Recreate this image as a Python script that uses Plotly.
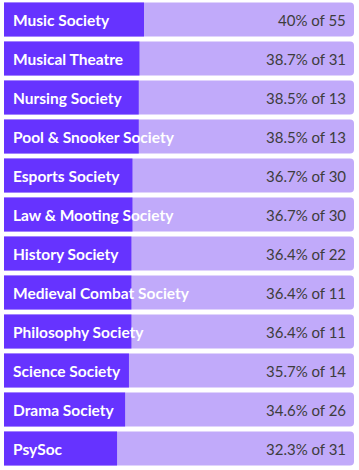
import plotly.graph_objects as go

societies = ["Music Society", "Musical Theatre", "Nursing Society", "Pool & Snooker Society",
             "Esports Society", "Law & Mooting Society", "History Society", "Medieval Combat Society",
             "Philosophy Society", "Science Society", "Drama Society", "PsySoc"]
percents = [40, 38.7, 38.5, 38.5, 36.7, 36.7, 36.4, 36.4, 36.4, 35.7, 34.6, 32.3]
totals = [55, 31, 13, 13, 30, 30, 22, 11, 11, 14, 26, 31]

DARK = "#6633FF"
LIGHT = "#C1AAFA"

right_labels = [f"{p:g}% of {t}" for p, t in zip(percents, totals)]

fig = go.Figure()
fig.add_trace(go.Bar(y=societies, x=[100] * len(societies), orientation="h",
                     marker=dict(color=LIGHT, cornerradius=4, line=dict(width=0)),
                     hoverinfo="skip"))
fig.add_trace(go.Bar(y=societies, x=percents, orientation="h",
                     marker=dict(color=DARK, line=dict(width=0)),
                     hoverinfo="skip"))

annotations = []
for s, r in zip(societies, right_labels):
    annotations.append(dict(x=0, y=s, xref="x", yref="y", text=s, showarrow=False,
                            xanchor="left", xshift=7,
                            font=dict(family="Lato", size=15.5, color="white", weight="bold")))
    annotations.append(dict(x=100, y=s, xref="x", yref="y", text=r, showarrow=False,
                            xanchor="right", xshift=-6,
                            font=dict(family="Lato", size=15, color="#3d3d3d")))

fig.update_layout(
    width=359, height=470,
    margin=dict(l=4, r=5, t=0, b=2),
    barmode="overlay", bargap=0.13,
    plot_bgcolor="white", paper_bgcolor="white",
    showlegend=False,
    xaxis=dict(range=[0, 100], visible=False, fixedrange=True),
    yaxis=dict(autorange="reversed", visible=False, fixedrange=True),
    annotations=annotations,
)

fig.write_html("out.html", config={"displayModeBar": False})
